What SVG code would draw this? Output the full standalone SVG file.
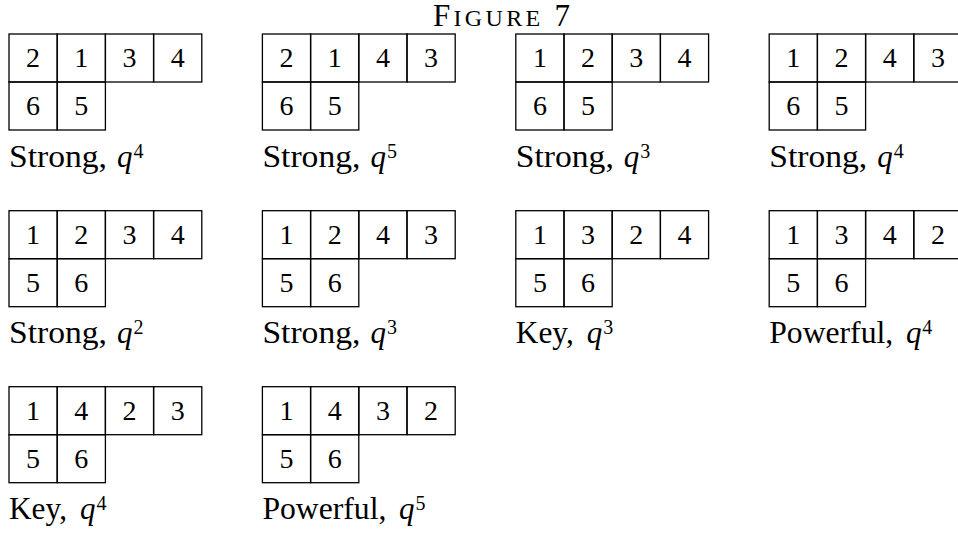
<svg xmlns="http://www.w3.org/2000/svg" width="958" height="534" viewBox="0 0 958 534">
<defs>
<style>
.cell{fill:none;stroke:#000;stroke-width:1.3}
.d{font-family:"Liberation Serif",serif;font-size:28px;text-anchor:middle;fill:#000}
.w{font-family:"Liberation Serif",serif;font-size:31px;fill:#000}
.q{font-family:"Liberation Serif",serif;font-size:31px;font-style:italic;fill:#000}
.s{font-family:"Liberation Serif",serif;font-size:20px;fill:#000}
.t{font-family:"Liberation Serif",serif;fill:#000}
</style>
<g id="tab">
<rect class="cell" x="0" y="0" width="48.2" height="48"/>
<rect class="cell" x="48.2" y="0" width="48.2" height="48"/>
<rect class="cell" x="96.4" y="0" width="48.2" height="48"/>
<rect class="cell" x="144.6" y="0" width="48.2" height="48"/>
<rect class="cell" x="0" y="48" width="48.2" height="48"/>
<rect class="cell" x="48.2" y="48" width="48.2" height="48"/>
</g>
</defs>
<text class="t" x="433" y="26" textLength="137" lengthAdjust="spacing"><tspan font-size="31">F</tspan><tspan font-size="24">IGURE</tspan><tspan font-size="31"> 7</tspan></text>

<g id="t1" transform="translate(9,34)">
<use href="#tab"/>
<text class="d" x="24.1" y="33">2</text><text class="d" x="72.3" y="33">1</text><text class="d" x="120.5" y="33">3</text><text class="d" x="168.7" y="33">4</text>
<text class="d" x="24.1" y="81">6</text><text class="d" x="72.3" y="81">5</text>
<text class="w" x="0" y="132.7" textLength="98" lengthAdjust="spacingAndGlyphs">Strong,</text><text class="q" x="108" y="132.7">q</text><text class="s" x="124.5" y="123.7">4</text>
</g>
<g id="t2" transform="translate(262.4,34)">
<use href="#tab"/>
<text class="d" x="24.1" y="33">2</text><text class="d" x="72.3" y="33">1</text><text class="d" x="120.5" y="33">4</text><text class="d" x="168.7" y="33">3</text>
<text class="d" x="24.1" y="81">6</text><text class="d" x="72.3" y="81">5</text>
<text class="w" x="0" y="132.7" textLength="98" lengthAdjust="spacingAndGlyphs">Strong,</text><text class="q" x="108" y="132.7">q</text><text class="s" x="124.5" y="123.7">5</text>
</g>
<g id="t3" transform="translate(515.8,34)">
<use href="#tab"/>
<text class="d" x="24.1" y="33">1</text><text class="d" x="72.3" y="33">2</text><text class="d" x="120.5" y="33">3</text><text class="d" x="168.7" y="33">4</text>
<text class="d" x="24.1" y="81">6</text><text class="d" x="72.3" y="81">5</text>
<text class="w" x="0" y="132.7" textLength="98" lengthAdjust="spacingAndGlyphs">Strong,</text><text class="q" x="108" y="132.7">q</text><text class="s" x="124.5" y="123.7">3</text>
</g>
<g id="t4" transform="translate(769.2,34)">
<use href="#tab"/>
<text class="d" x="24.1" y="33">1</text><text class="d" x="72.3" y="33">2</text><text class="d" x="120.5" y="33">4</text><text class="d" x="168.7" y="33">3</text>
<text class="d" x="24.1" y="81">6</text><text class="d" x="72.3" y="81">5</text>
<text class="w" x="0" y="132.7" textLength="98" lengthAdjust="spacingAndGlyphs">Strong,</text><text class="q" x="108" y="132.7">q</text><text class="s" x="124.5" y="123.7">4</text>
</g>

<g id="t5" transform="translate(9,210.7)">
<use href="#tab"/>
<text class="d" x="24.1" y="33">1</text><text class="d" x="72.3" y="33">2</text><text class="d" x="120.5" y="33">3</text><text class="d" x="168.7" y="33">4</text>
<text class="d" x="24.1" y="81">5</text><text class="d" x="72.3" y="81">6</text>
<text class="w" x="0" y="132.7" textLength="98" lengthAdjust="spacingAndGlyphs">Strong,</text><text class="q" x="108" y="132.7">q</text><text class="s" x="124.5" y="123.7">2</text>
</g>
<g id="t6" transform="translate(262.4,210.7)">
<use href="#tab"/>
<text class="d" x="24.1" y="33">1</text><text class="d" x="72.3" y="33">2</text><text class="d" x="120.5" y="33">4</text><text class="d" x="168.7" y="33">3</text>
<text class="d" x="24.1" y="81">5</text><text class="d" x="72.3" y="81">6</text>
<text class="w" x="0" y="132.7" textLength="98" lengthAdjust="spacingAndGlyphs">Strong,</text><text class="q" x="108" y="132.7">q</text><text class="s" x="124.5" y="123.7">3</text>
</g>
<g id="t7" transform="translate(515.8,210.7)">
<use href="#tab"/>
<text class="d" x="24.1" y="33">1</text><text class="d" x="72.3" y="33">3</text><text class="d" x="120.5" y="33">2</text><text class="d" x="168.7" y="33">4</text>
<text class="d" x="24.1" y="81">5</text><text class="d" x="72.3" y="81">6</text>
<text class="w" x="0" y="132.7" textLength="58" lengthAdjust="spacingAndGlyphs">Key,</text><text class="q" x="71" y="132.7">q</text><text class="s" x="87.5" y="123.7">3</text>
</g>
<g id="t8" transform="translate(769.2,210.7)">
<use href="#tab"/>
<text class="d" x="24.1" y="33">1</text><text class="d" x="72.3" y="33">3</text><text class="d" x="120.5" y="33">4</text><text class="d" x="168.7" y="33">2</text>
<text class="d" x="24.1" y="81">5</text><text class="d" x="72.3" y="81">6</text>
<text class="w" x="0" y="132.7" textLength="124" lengthAdjust="spacingAndGlyphs">Powerful,</text><text class="q" x="136.7" y="132.7">q</text><text class="s" x="153" y="123.7">4</text>
</g>

<g id="t9" transform="translate(9,386.7)">
<use href="#tab"/>
<text class="d" x="24.1" y="33">1</text><text class="d" x="72.3" y="33">4</text><text class="d" x="120.5" y="33">2</text><text class="d" x="168.7" y="33">3</text>
<text class="d" x="24.1" y="81">5</text><text class="d" x="72.3" y="81">6</text>
<text class="w" x="0" y="132.7" textLength="58" lengthAdjust="spacingAndGlyphs">Key,</text><text class="q" x="71" y="132.7">q</text><text class="s" x="87.5" y="123.7">4</text>
</g>
<g id="t10" transform="translate(262.4,386.7)">
<use href="#tab"/>
<text class="d" x="24.1" y="33">1</text><text class="d" x="72.3" y="33">4</text><text class="d" x="120.5" y="33">3</text><text class="d" x="168.7" y="33">2</text>
<text class="d" x="24.1" y="81">5</text><text class="d" x="72.3" y="81">6</text>
<text class="w" x="0" y="132.7" textLength="124" lengthAdjust="spacingAndGlyphs">Powerful,</text><text class="q" x="136.7" y="132.7">q</text><text class="s" x="153" y="123.7">5</text>
</g>
</svg>
